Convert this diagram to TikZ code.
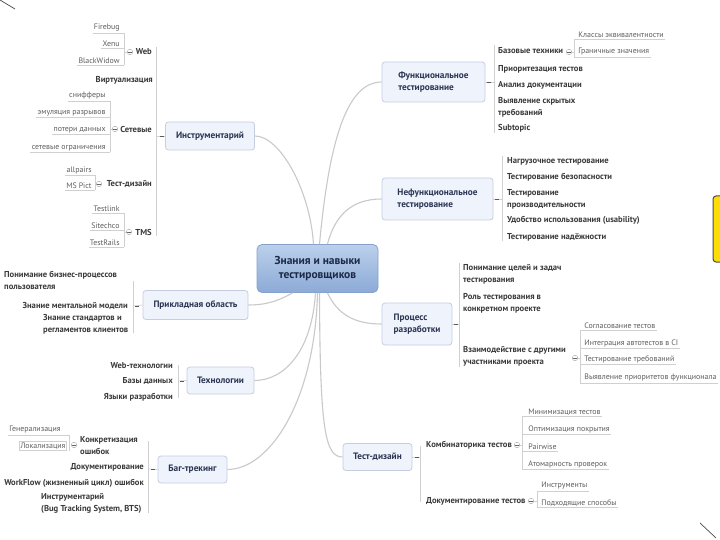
\documentclass[tikz,border=0pt]{standalone}
\usepackage{fontspec}
\setmainfont{PT Sans}
\usetikzlibrary{calc}
\definecolor{curvec}{HTML}{C9C9C9}
\definecolor{brk}{HTML}{D0D0D0}
\definecolor{bfill}{HTML}{EEF3FC}
\definecolor{bdraw}{HTML}{C5CEE0}
\definecolor{btext}{HTML}{2B3552}
\definecolor{ctop}{HTML}{BBD0EC}
\definecolor{cbot}{HTML}{8CAAD6}
\definecolor{cdraw}{HTML}{86A2CB}
\definecolor{ctext}{HTML}{1C2A48}
\definecolor{itext}{HTML}{3A3A3A}
\definecolor{stext}{HTML}{5E5E5E}
\tikzset{
  branchbox/.style={draw=bdraw, fill=bfill, rounded corners=3pt, line width=0.8pt, text=btext,
    font=\bfseries\fontsize{9.3}{12}\selectfont, inner sep=0pt, align=left},
  centralbox/.style={draw=cdraw, top color=ctop, bottom color=cbot, rounded corners=5pt, line width=0.8pt,
    text=ctext, font=\bfseries\fontsize{11.5}{14}\selectfont, align=center, inner sep=0pt},
  itemtext/.style={font=\bfseries\fontsize{8.6}{11.8}\selectfont, text=itext, inner sep=1pt, align=left},
  subtext/.style={font=\fontsize{7.9}{9}\selectfont, text=stext, inner sep=1.2pt},
  curveline/.style={draw=curvec, line width=1.1pt},
  brkline/.style={draw=brk, line width=0.7pt},
  ulline/.style={draw=brk, line width=0.6pt},
  dashmark/.style={draw=black!65, line width=0.7pt},
  colmark/.style={circle, draw=gray!70, fill=white, inner sep=0pt, minimum size=5.5pt,
    path picture={\draw[black!60, line width=0.5pt] ([xshift=-1.6pt]path picture bounding box.center) -- ([xshift=1.6pt]path picture bounding box.center);}}
}
\begin{document}
\begin{tikzpicture}[x=1pt,y=-1pt]
\fill[white] (0,0) rectangle (720,540);
\useasboundingbox (0,0) rectangle (720,540);

% slide decorations
\draw[black!70, line width=0.7pt] (0,0) -- (15,9);
\draw[black!70, line width=0.7pt] (700,523) -- (716,538);
\draw[fill=yellow!80!orange, draw=black!70, line width=1pt, rounded corners=3pt] (713,196) rectangle (740,262);

% central node
\node[centralbox, minimum width=121pt, minimum height=48pt] (c) at (317.5,268.5) {Знания и навыки\\тестировщиков};

% main branches
\node[branchbox, minimum width=89pt, minimum height=28pt, align=center] (instr) at (210,136) {Инструментарий};
\node[branchbox, minimum width=105pt, minimum height=29pt, align=center] (app) at (195.5,305) {Прикладная область};
\node[branchbox, minimum width=67pt, minimum height=27pt, align=center] (tech) at (220.5,380.5) {Технологии};
\node[branchbox, minimum width=69pt, minimum height=27pt, align=center] (bug) at (192.5,469.5) {Баг-трекинг};
\node[branchbox, minimum width=103pt, minimum height=40pt] (func) at (433.5,82) {Функциональное\\тестирование};
\node[branchbox, minimum width=111pt, minimum height=42pt] (nfunc) at (437.5,199) {Нефункциональное\\тестирование};
\node[branchbox, minimum width=70pt, minimum height=42pt] (proc) at (417,324) {Процесс\\разработки};
\node[branchbox, minimum width=69pt, minimum height=27pt, align=center] (tdes) at (377.5,457) {Тест-дизайн};

% curves from centre
\draw[curveline] ([xshift=-4pt]c.north) .. controls (310,190) and (280,136) .. (instr.east);
\draw[curveline] ([xshift=2pt]c.north) .. controls (330,130) and (350,82) .. (func.west);
\draw[curveline] ([xshift=10pt]c.north) .. controls (335,215) and (352,199) .. (nfunc.west);
\draw[curveline] ([xshift=-25pt]c.south) .. controls (275,303) and (262,305) .. (app.east);
\draw[curveline] ([xshift=10pt]c.south) .. controls (338,315) and (355,324) .. (proc.west);
\draw[curveline] ([xshift=-2pt]c.south) .. controls (312,350) and (285,380.5) .. (tech.east);
\draw[curveline] ([xshift=0pt]c.south) .. controls (315,400) and (270,469.5) .. (bug.east);
\draw[curveline] ([xshift=2pt]c.south) .. controls (320,430) and (325,457) .. (tdes.west);

% ---------- Инструментарий ----------
\coordinate (ib) at (156,136);
\draw[brkline] (156,47) -- (156,236);
\draw[brkline] (ib) -- (instr.west);
\draw[dashmark] (159.5,136) -- (163.5,136);
\node[itemtext, anchor=east] (web) at (153,52) {Web};
\node[itemtext, anchor=east] (virt) at (154,80) {Виртуализация};
\node[itemtext, anchor=east] (net) at (153,129) {Сетевые};
\node[itemtext, anchor=east] (td1) at (153,184) {Тест-дизайн};
\node[itemtext, anchor=east] (tms) at (153,232) {TMS};
% Web
\node[colmark] (webm) at (130,52) {};
\coordinate (wb) at (124,52);
\node[subtext, anchor=east] (fb) at (121,28) {Firebug};
\node[subtext, anchor=east] (xenu) at (121,44) {Xenu};
\node[subtext, anchor=east] (bw) at (121,61) {BlackWidow};
\foreach \n in {fb,xenu,bw} {\draw[ulline] (\n.south west) -- (\n.south -| wb);}
\draw[ulline] (fb.south -| wb) -- (bw.south -| wb);
\draw[ulline] (wb) -- (webm.west);
% Сетевые
\node[colmark] (netm) at (115,129) {};
\coordinate (nb) at (110,129);
\node[subtext, anchor=east] (sn) at (107,96) {снифферы};
\node[subtext, anchor=east] (em) at (107,113) {эмуляция разрывов};
\node[subtext, anchor=east] (ls) at (107,130) {потери данных};
\node[subtext, anchor=east] (lm) at (107,148) {сетевые ограничения};
\foreach \n in {sn,em,ls,lm} {\draw[ulline] (\n.south west) -- (\n.south -| nb);}
\draw[ulline] (sn.south -| nb) -- (lm.south -| nb);
\draw[ulline] (nb) -- (netm.west);
% Тест-дизайн (tools)
\node[colmark] (td1m) at (99,184) {};
\coordinate (tb) at (95,184);
\node[subtext, anchor=east] (ap) at (93,170) {allpairs};
\node[subtext, anchor=east] (msp) at (93,186) {MS Pict};
\foreach \n in {ap,msp} {\draw[ulline] (\n.south west) -- (\n.south -| tb);}
\draw[ulline] (ap.south -| tb) -- (msp.south -| tb);
% TMS
\node[colmark] (tmsm) at (129,232) {};
\coordinate (mb) at (124,232);
\node[subtext, anchor=east] (tl) at (121,209) {Testlink};
\node[subtext, anchor=east] (sc) at (121,226) {Sitechco};
\node[subtext, anchor=east] (tr) at (121,243) {TestRails};
\foreach \n in {tl,sc,tr} {\draw[ulline] (\n.south west) -- (\n.south -| mb);}
\draw[ulline] (tl.south -| mb) -- (tr.south -| mb);
\draw[ulline] (mb) -- (tmsm.west);

% ---------- Прикладная область ----------
\coordinate (ab) at (133,306);
\draw[brkline] (133,281) -- (133,333);
\draw[brkline] (ab) -- (app.west);
\draw[dashmark] (135,306) -- (139,306);
\node[itemtext, anchor=north west] (biz) at (3,270) {Понимание бизнес-процессов\\пользователя};
\node[itemtext, anchor=east] (ment) at (129,306) {Знание ментальной модели};
\node[itemtext, anchor=north west] (std) at (42,313) {Знание стандартов и\\регламентов клиентов};

% ---------- Технологии ----------
\coordinate (tcb) at (178,381);
\draw[brkline] (178,365) -- (178,398);
\draw[brkline] (tcb) -- (tech.west);
\draw[dashmark] (180,381) -- (184,381);
\node[itemtext, anchor=east] (wt) at (174,366) {Web-технологии};
\node[itemtext, anchor=east] (db) at (174,381) {Базы данных};
\node[itemtext, anchor=east] (lang) at (174,397) {Языки разработки};

% ---------- Баг-трекинг ----------
\coordinate (bb) at (148,469);
\draw[brkline] (148,441) -- (148,513);
\draw[brkline] (bb) -- (bug.west);
\draw[dashmark] (151,469) -- (155,469);
\node[itemtext, anchor=west] (konk) at (79,445.5) {Конкретизация\\ошибок};
\node[itemtext, anchor=east] (docb) at (145,467) {Документирование};
\node[itemtext, anchor=east] (wf) at (145,483) {WorkFlow (жизненный цикл) ошибок};
\node[itemtext, anchor=north west] (bts) at (40,492) {Инструментарий\\(Bug Tracking System, BTS)};
\node[colmark] (konkm) at (74,445) {};
\coordinate (kb) at (69,445);
\node[subtext, anchor=east] (gen) at (62,430) {Генерализация};
\node[subtext, anchor=east, draw=brk, line width=0.6pt] (lok) at (67,446) {Локализация};
\draw[ulline] (gen.south west) -- (gen.south -| kb) -- (lok.south -| kb);

% ---------- Функциональное ----------
\coordinate (fb2) at (494,82);
\draw[brkline] (494,45) -- (494,133);
\draw[brkline] (func.east) -- (fb2);
\draw[dashmark] (487,82) -- (491,82);
\node[itemtext, anchor=west] (bt) at (497,51) {Базовые техники};
\node[itemtext, anchor=west] (prio) at (497,69) {Приоритезация тестов};
\node[itemtext, anchor=west] (anal) at (497,85) {Анализ документации};
\node[itemtext, anchor=west] (hid) at (497,107) {Выявление скрытых\\требований};
\node[itemtext, anchor=west] (subt) at (497,128) {Subtopic};
\node[colmark] (btm) at (569,52) {};
\coordinate (btb) at (574,52);
\node[subtext, anchor=west] (cls) at (577,35) {Классы эквивалентности};
\node[subtext, anchor=west] (gr) at (577,52) {Граничные значения};
\foreach \n in {cls,gr} {\draw[ulline] (\n.south -| btb) -- (\n.south east);}
\draw[ulline] (cls.south -| btb) -- (gr.south -| btb);
\draw[ulline] (btm.east) -- (btb);

% ---------- Нефункциональное ----------
\coordinate (nb2) at (502,199);
\draw[brkline] (502,156) -- (502,241);
\draw[brkline] (nfunc.east) -- (nb2);
\draw[dashmark] (495,199) -- (499,199);
\node[itemtext, anchor=west] (load) at (506,161) {Нагрузочное тестирование};
\node[itemtext, anchor=west] (sec) at (506,177) {Тестирование безопасности};
\node[itemtext, anchor=west] (perf) at (506,199) {Тестирование\\производительности};
\node[itemtext, anchor=west] (usab) at (506,220) {Удобство использования (usability)};
\node[itemtext, anchor=west] (rel) at (506,237) {Тестирование надёжности};

% ---------- Процесс разработки ----------
\coordinate (pb) at (459,324);
\draw[brkline] (459,263) -- (459,367);
\draw[brkline] (proc.east) -- (pb);
\draw[dashmark] (454,324) -- (458,324);
\node[itemtext, anchor=west] (goals) at (462,274.5) {Понимание целей и задач\\тестирования};
\node[itemtext, anchor=west] (role) at (462,303) {Роль тестирования в\\конкретном проекте};
\node[itemtext, anchor=west] (inter) at (462,356.5) {Взаимодействие с другими\\участниками проекта};
\node[colmark] (interm) at (575,358) {};
\coordinate (ib2) at (580,358);
\node[subtext, anchor=west] (sogl) at (583,326) {Согласование тестов};
\node[subtext, anchor=west] (integ) at (583,343) {Интеграция автотестов в CI};
\node[subtext, anchor=west] (treb) at (583,359) {Тестирование требований};
\node[subtext, anchor=west] (prior) at (583,378) {Выявление приоритетов функционала};
\foreach \n in {sogl,integ,treb,prior} {\draw[ulline] (\n.south -| ib2) -- (\n.south east);}
\draw[ulline] (sogl.south -| ib2) -- (prior.south -| ib2);
\draw[ulline] (interm.east) -- (ib2);

% ---------- Тест-дизайн ----------
\coordinate (tdb) at (420,457);
\draw[brkline] (420,446) -- (420,502);
\draw[brkline] (tdes.east) -- (tdb);
\draw[dashmark] (415,457) -- (419,457);
\node[itemtext, anchor=west] (comb) at (425,445) {Комбинаторика тестов};
\node[itemtext, anchor=west] (docs) at (425,501) {Документирование тестов};
\node[colmark] (combm) at (517,445) {};
\coordinate (cb) at (522,445);
\node[subtext, anchor=west] (mn) at (527,412) {Минимизация тестов};
\node[subtext, anchor=west] (opt) at (527,429) {Оптимизация покрытия};
\node[subtext, anchor=west] (pw) at (527,447) {Pairwise};
\node[subtext, anchor=west] (atom) at (527,464) {Атомарность проверок};
\foreach \n in {mn,opt,pw,atom} {\draw[ulline] (\n.south -| cb) -- (\n.south east);}
\draw[ulline] (mn.south -| cb) -- (atom.south -| cb);
\draw[ulline] (combm.east) -- (cb);
\node[colmark] (docsm) at (531,501) {};
\coordinate (dcb) at (537,501);
\node[subtext, anchor=west] (ins) at (540,486) {Инструменты};
\node[subtext, anchor=west] (pod) at (540,503) {Подходящие способы};
\foreach \n in {ins,pod} {\draw[ulline] (\n.south -| dcb) -- (\n.south east);}
\draw[ulline] (ins.south -| dcb) -- (pod.south -| dcb);
\draw[ulline] (docsm.east) -- (dcb);
\end{tikzpicture}
\end{document}
